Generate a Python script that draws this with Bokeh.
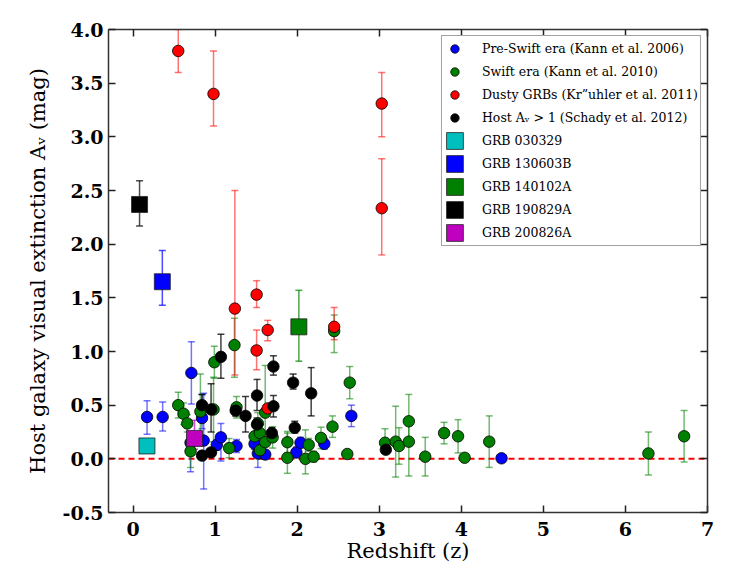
from bokeh.plotting import figure
from bokeh.models import (ColumnDataSource, Whisker, TeeHead, Span, LinearAxis, Legend,
                          LegendItem, SingleIntervalTicker, PrintfTickFormatter)
from bokeh.embed import file_html
from bokeh.resources import INLINE

# ---------------- data ----------------
# Pre-Swift era (Kann et al. 2006)
pre_z  = [0.17, 0.36, 0.70, 0.71, 0.84, 0.86, 1.02, 1.07, 1.26, 1.48, 1.52, 1.61, 1.99, 2.04, 2.33, 2.66, 4.49]
pre_av = [0.39, 0.39, 0.15, 0.80, 0.38, 0.17, 0.13, 0.20, 0.12, 0.14, 0.05, 0.04, 0.06, 0.15, 0.14, 0.40, 0.005]
pre_lo = [0.16, 0.13, 0.27, 0.29, 0.10, 0.45, 0.05, 0.22, 0.06, 0.05, 0.13, 0.04, 0.05, 0.05, 0.05, 0.10, 0.0]
pre_hi = [0.15, 0.14, 0.10, 0.29, 0.22, 0.44, 0.05, 0.13, 0.06, 0.05, 0.05, 0.04, 0.05, 0.05, 0.05, 0.10, 0.0]

# Swift era (Kann et al. 2010)
swift_z  = [0.55, 0.615, 0.66, 0.70, 0.82, 0.98, 0.99, 1.17, 1.235, 1.26, 1.48, 1.52, 1.545, 1.545,
            1.61, 1.61, 1.70, 1.88, 1.88, 2.10, 2.14, 2.20, 2.29, 2.43, 2.45, 2.61, 2.64,
            3.07, 3.20, 3.24, 3.36, 3.36, 3.56, 3.79, 3.96, 4.04, 4.34, 6.28, 6.715]
swift_av = [0.50, 0.42, 0.33, 0.07, 0.44, 0.46, 0.90, 0.10, 1.06, 0.48, 0.21, 0.33, 0.24, 0.08,
            0.43, 0.155, 0.20, 0.155, 0.01, 0.00, 0.13, 0.02, 0.195, 0.30, 1.19, 0.045, 0.71,
            0.15, 0.16, 0.12, 0.35, 0.16, 0.02, 0.24, 0.21, 0.01, 0.16, 0.05, 0.21]
swift_lo = [0.12, 0.10, 0.08, 0.15, 0.27, 0.30, 0.15, 0.09, 0.30, 0.10, 0.10, 0.10, 0.08, 0.08,
            0.20, 0.08, 0.10, 0.10, 0.145, 0.14, 0.06, 0.05, 0.10, 0.10, 0.20, 0.03, 0.15,
            0.10, 0.33, 0.17, 0.20, 0.32, 0.18, 0.10, 0.155, 0.0, 0.24, 0.20, 0.24]
swift_hi = [0.12, 0.10, 0.08, 0.15, 0.35, 0.30, 0.15, 0.09, 0.25, 0.10, 0.10, 0.10, 0.08, 0.08,
            0.44, 0.08, 0.10, 0.10, 0.23, 0.27, 0.06, 0.05, 0.10, 0.10, 0.15, 0.03, 0.15,
            0.13, 0.33, 0.17, 0.25, 0.20, 0.18, 0.10, 0.155, 0.0, 0.24, 0.20, 0.24]

# Dusty GRBs (Kruehler et al. 2011)
dusty_z  = [0.55, 0.98, 1.24, 1.505, 1.505, 1.64, 1.64, 2.45, 3.03, 3.03]
dusty_av = [3.80, 3.40, 1.40, 1.53, 1.01, 1.20, 0.47, 1.23, 3.31, 2.335]
dusty_lo = [0.20, 0.30, 0.62, 0.12, 0.18, 0.10, 0.03, 0.12, 0.31, 0.435]
dusty_hi = [0.20, 0.40, 1.10, 0.13, 0.19, 0.09, 0.03, 0.18, 0.29, 0.46]

# Host A_V > 1 (Schady et al. 2012)
host_z  = [0.84, 0.84, 0.95, 0.95, 1.07, 1.25, 1.37, 1.51, 1.51, 1.69, 1.71, 1.71, 1.95, 1.97, 2.17, 3.08]
host_av = [0.50, 0.03, 0.46, 0.06, 0.95, 0.45, 0.40, 0.59, 0.32, 0.24, 0.49, 0.86, 0.71, 0.29, 0.61, 0.085]
host_lo = [0.10, 0.03, 0.21, 0.03, 0.20, 0.05, 0.15, 0.14, 0.06, 0.05, 0.10, 0.08, 0.06, 0.05, 0.21, 0.03]
host_hi = [0.10, 0.03, 0.24, 0.03, 0.21, 0.05, 0.18, 0.15, 0.06, 0.05, 0.10, 0.10, 0.08, 0.06, 0.24, 0.03]

# Individual GRBs
grb_names  = ["GRB 030329", "GRB 130603B", "GRB 140102A", "GRB 190829A", "GRB 200826A"]
grb_z      = [0.1685, 0.356, 2.02, 0.0785, 0.748]
grb_av     = [0.12, 1.65, 1.23, 2.37, 0.19]
grb_lo     = [0.0, 0.22, 0.32, 0.20, 0.10]
grb_hi     = [0.0, 0.29, 0.34, 0.22, 0.17]
grb_colors = ["#00bfbf", "#0000ff", "#008000", "#000000", "#bf00bf"]

series_labels = ["Pre-Swift era (Kann et al. 2006)",
                 "Swift era (Kann et al. 2010)",
                 "Dusty GRBs (Kr\u201duhler et al. 2011)",
                 "Host A\u1d65 > 1 (Schady et al. 2012)"]
series_colors = ["#0000ff", "#008000", "#ff0000", "#000000"]

FONT = "DejaVu Serif"

p = figure(frame_width=599, frame_height=483, x_range=(-0.3, 7.0), y_range=(-0.5, 4.0),
           output_backend="svg", toolbar_location=None,
           min_border_left=108, min_border_right=16, min_border_top=29, min_border_bottom=50)
p.grid.visible = False
p.outline_line_color = None

bottom = p.below[0]
left = p.left[0]
bottom.ticker = SingleIntervalTicker(interval=1)
left.ticker = SingleIntervalTicker(interval=0.5)
left.formatter = PrintfTickFormatter(format="%.1f")
top = LinearAxis(ticker=SingleIntervalTicker(interval=1))
right = LinearAxis(ticker=SingleIntervalTicker(interval=0.5))
p.add_layout(top, "above")
p.add_layout(right, "right")
for ax in [bottom, left, top, right]:
    ax.major_tick_in = 7
    ax.major_tick_out = 0
    ax.minor_tick_line_color = None
    ax.axis_line_color = "#333333"
    ax.axis_line_width = 1.5
    ax.major_tick_line_color = "#222222"
    ax.major_tick_line_width = 1.5
    ax.major_label_text_font = FONT
    ax.major_label_text_font_style = "bold"
    ax.major_label_text_font_size = "19px"
    ax.major_label_text_color = "black"
for ax in [top, right]:
    ax.major_label_text_color = None
    ax.major_label_text_font_size = "2px"
    ax.major_label_standoff = 0
bottom.major_label_standoff = 5
left.major_label_standoff = 1

bottom.axis_label = "Redshift (z)"
left.axis_label = "Host galaxy visual extinction A\u1d65 (mag)"
for ax, st in [(bottom, 0), (left, 10)]:
    ax.axis_label_text_font = FONT
    ax.axis_label_text_font_style = "normal"
    ax.axis_label_text_font_size = "21px"
    ax.axis_label_text_color = "black"
    ax.axis_label_standoff = st

zero = Span(location=0, dimension="width", line_color="red", line_dash="6 4", line_width=2,
            level="underlay")
p.add_layout(zero)


def add_errors(src, color, alpha):
    w = Whisker(source=src, base="z", upper="up", lower="low", dimension="height",
                line_color=color, line_alpha=alpha, line_width=1.5,
                upper_head=TeeHead(size=7, line_color=color, line_alpha=alpha, line_width=1.5),
                lower_head=TeeHead(size=7, line_color=color, line_alpha=alpha, line_width=1.5))
    p.add_layout(w)


items = []
series = [(pre_z, pre_av, pre_lo, pre_hi), (swift_z, swift_av, swift_lo, swift_hi),
          (dusty_z, dusty_av, dusty_lo, dusty_hi), (host_z, host_av, host_lo, host_hi)]
for (z, av, lo, hi), color, label in zip(series, series_colors, series_labels):
    src = ColumnDataSource(dict(z=z, av=av,
                                low=[a - l for a, l in zip(av, lo)],
                                up=[a + h for a, h in zip(av, hi)]))
    add_errors(src, color, 0.55 if color != "#000000" else 0.75)
    r = p.scatter("z", "av", source=src, size=11.5, marker="circle", fill_color=color,
                  line_color="black", line_width=0.8)
    items.append(LegendItem(label=label, renderers=[r]))

for i in range(len(grb_names)):
    src = ColumnDataSource(dict(z=[grb_z[i]], av=[grb_av[i]],
                                low=[grb_av[i] - grb_lo[i]], up=[grb_av[i] + grb_hi[i]]))
    add_errors(src, grb_colors[i], 0.7)
    r = p.rect("z", "av", source=src, width=16, height=16, width_units="screen",
               height_units="screen", fill_color=grb_colors[i], line_color="#222222",
               line_width=0.8)
    items.append(LegendItem(label=grb_names[i], renderers=[r]))

legend = Legend(items=items, location="top_right", margin=6, padding=2,
                glyph_width=21, glyph_height=21, label_height=21, spacing=2,
                label_standoff=17, label_text_font=FONT, label_text_font_size="12.5px",
                label_text_color="black", border_line_color="#444444", border_line_width=1,
                background_fill_color="white", background_fill_alpha=1.0)
p.add_layout(legend)

open("out.html", "w").write(file_html(p, INLINE))
